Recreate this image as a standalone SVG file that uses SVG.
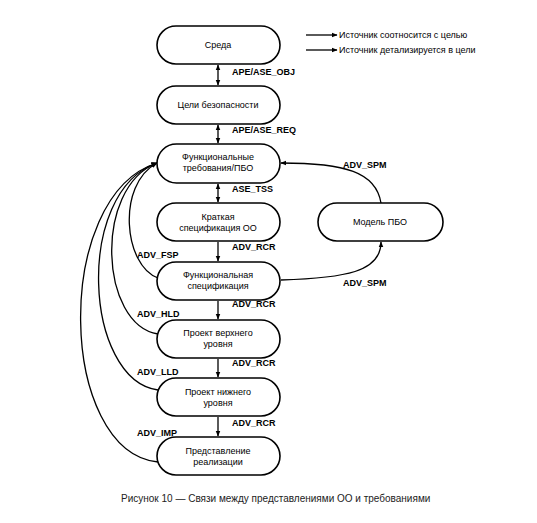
<svg xmlns="http://www.w3.org/2000/svg" width="537" height="523" viewBox="0 0 537 523">
<defs>
<marker id="ah" viewBox="0 0 10 10" refX="9" refY="5" markerWidth="6" markerHeight="6" orient="auto" markerUnits="userSpaceOnUse">
<path d="M0,1 L10,5 L0,9 z" fill="#000"/>
</marker>
<marker id="as" viewBox="0 0 10 10" refX="1" refY="5" markerWidth="6" markerHeight="6" orient="auto" markerUnits="userSpaceOnUse">
<path d="M10,1 L0,5 L10,9 z" fill="#000"/>
</marker>
</defs>
<style>
.box{fill:#fff;stroke:#000;stroke-width:1.6}
.t{font-family:"Liberation Sans",Arial,sans-serif;font-size:9px;fill:#000;text-anchor:middle}
.l{font-family:"Liberation Sans",Arial,sans-serif;font-size:9px;font-weight:bold;fill:#000}
.c{fill:none;stroke:#000;stroke-width:1.3}
.lg{font-family:"Liberation Sans",Arial,sans-serif;font-size:9px;fill:#000}
.cap{font-family:"Liberation Sans",Arial,sans-serif;font-size:10px;fill:#222}
</style>
<rect width="537" height="523" fill="#fff"/>

<g id="connectors">
<path class="c" d="M218,65 L218,85" marker-start="url(#as)" marker-end="url(#ah)"/>
<path class="c" d="M218,125 L218,143" marker-start="url(#as)" marker-end="url(#ah)"/>
<path class="c" d="M218,184 L218,202" marker-start="url(#as)" marker-end="url(#ah)"/>
<path class="c" d="M218,242 L218,261" marker-end="url(#ah)"/>
<path class="c" d="M218,301 L218,319" marker-end="url(#ah)"/>
<path class="c" d="M218,359 L218,377" marker-end="url(#ah)"/>
<path class="c" d="M218,417 L218,436" marker-end="url(#ah)"/>
<path class="c" d="M381,203 C376,172 345,163 281,163" marker-end="url(#ah)"/>
<path class="c" d="M281,280 C345,278 381,272 381,242" marker-end="url(#ah)"/>
<path class="c" d="M158,278 C124,266 116,185 157,163" marker-end="url(#ah)"/>
<path class="c" d="M158,334 C100,325 93,188 157,163" marker-end="url(#ah)"/>
<path class="c" d="M158,390 C84,380 74,192 157,163" marker-end="url(#ah)"/>
<path class="c" d="M158,462 C58,452 52,196 157,163" marker-end="url(#ah)"/>
<path class="c" d="M306,35 L337,35" marker-end="url(#ah)"/>
<path class="c" d="M306,50 L337,50" marker-end="url(#ah)"/>
</g>

<g id="labels">
<text class="l" x="232" y="75">APE/ASE_OBJ</text>
<text class="l" x="232" y="133">APE/ASE_REQ</text>
<text class="l" x="232" y="192">ASE_TSS</text>
<text class="l" x="232" y="250">ADV_RCR</text>
<text class="l" x="232" y="307">ADV_RCR</text>
<text class="l" x="232" y="366">ADV_RCR</text>
<text class="l" x="232" y="426">ADV_RCR</text>
<text class="l" x="137" y="258">ADV_FSP</text>
<text class="l" x="137" y="317">ADV_HLD</text>
<text class="l" x="137" y="375">ADV_LLD</text>
<text class="l" x="137" y="436">ADV_IMP</text>
<text class="l" x="343" y="168">ADV_SPM</text>
<text class="l" x="343" y="286">ADV_SPM</text>
</g>

<g id="legend">
<text class="lg" x="339" y="38">Источник соотносится с целью</text>
<text class="lg" x="339" y="53">Источник детализируется в цели</text>
</g>

<g id="n-sreda"><rect class="box" x="157" y="26" width="123" height="38" rx="19"/><text class="t" x="218" y="48">Среда</text></g>
<g id="n-celi"><rect class="box" x="157" y="86" width="123" height="38" rx="19"/><text class="t" x="218" y="108">Цели безопасности</text></g>
<g id="n-ft"><rect class="box" x="157" y="144" width="123" height="39" rx="19.5"/><text class="t" x="218" y="160">Функциональные</text><text class="t" x="218" y="171">требования/ПБО</text></g>
<g id="n-kso"><rect class="box" x="157" y="203" width="123" height="38" rx="19"/><text class="t" x="218" y="220">Краткая</text><text class="t" x="218" y="231">спецификация ОО</text></g>
<g id="n-fs"><rect class="box" x="157" y="262" width="123" height="38" rx="19"/><text class="t" x="218" y="278">Функциональная</text><text class="t" x="218" y="289">спецификация</text></g>
<g id="n-hld"><rect class="box" x="157" y="320" width="123" height="38" rx="19"/><text class="t" x="218" y="336">Проект верхнего</text><text class="t" x="218" y="347">уровня</text></g>
<g id="n-lld"><rect class="box" x="157" y="378" width="123" height="38" rx="19"/><text class="t" x="218" y="395">Проект нижнего</text><text class="t" x="218" y="406">уровня</text></g>
<g id="n-imp"><rect class="box" x="157" y="437" width="123" height="38" rx="19"/><text class="t" x="218" y="454">Представление</text><text class="t" x="218" y="465">реализации</text></g>
<g id="n-model"><rect class="box" x="318" y="203" width="125" height="38" rx="19"/><text class="t" x="380" y="225">Модель ПБО</text></g>

<text class="cap" x="121" y="502">Рисунок 10 — Связи между представлениями ОО и требованиями</text>
</svg>
